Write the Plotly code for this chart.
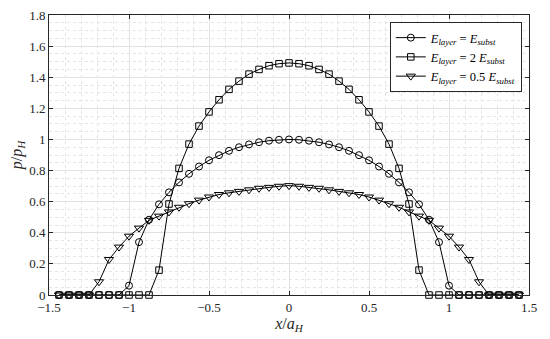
import plotly.graph_objects as go

x_vals = [-1.4375, -1.375, -1.3125, -1.25, -1.1875, -1.125, -1.0625, -1.0,
          -0.9375, -0.875, -0.8125, -0.75, -0.6875, -0.625, -0.5625, -0.5,
          -0.4375, -0.375, -0.3125, -0.25, -0.1875, -0.125, -0.0625, 0.0,
          0.0625, 0.125, 0.1875, 0.25, 0.3125, 0.375, 0.4375, 0.5,
          0.5625, 0.625, 0.6875, 0.75, 0.8125, 0.875, 0.9375, 1.0,
          1.0625, 1.125, 1.1875, 1.25, 1.3125, 1.375, 1.4375]

p_equal = [0, 0, 0, 0, 0, 0, 0, 0.06,
           0.34, 0.484, 0.583, 0.66, 0.724, 0.779, 0.826, 0.866,
           0.899, 0.927, 0.950, 0.968, 0.982, 0.992, 0.998, 1.0,
           0.998, 0.992, 0.982, 0.968, 0.950, 0.927, 0.899, 0.866,
           0.826, 0.779, 0.724, 0.66, 0.583, 0.484, 0.34, 0.06,
           0, 0, 0, 0, 0, 0, 0]

p_double = [0, 0, 0, 0, 0, 0, 0, 0,
            0, 0, 0.16, 0.585, 0.814, 0.97, 1.086, 1.177,
            1.255, 1.322, 1.375, 1.42, 1.45, 1.474, 1.487, 1.492,
            1.487, 1.474, 1.45, 1.42, 1.375, 1.322, 1.255, 1.177,
            1.086, 0.97, 0.814, 0.585, 0.16, 0, 0, 0,
            0, 0, 0, 0, 0, 0, 0]

p_half = [0, 0, 0, 0, 0.085, 0.228, 0.308, 0.378,
          0.43, 0.48, 0.507, 0.534, 0.564, 0.587, 0.61, 0.63,
          0.646, 0.657, 0.666, 0.676, 0.686, 0.692, 0.699, 0.703,
          0.699, 0.692, 0.686, 0.676, 0.666, 0.657, 0.646, 0.63,
          0.61, 0.587, 0.564, 0.534, 0.507, 0.48, 0.43, 0.378,
          0.308, 0.228, 0.085, 0, 0, 0, 0]

series_names = [
    "<i>E</i><sub><i>layer</i></sub> = <i>E</i><sub><i>subst</i></sub>",
    "<i>E</i><sub><i>layer</i></sub> = 2 <i>E</i><sub><i>subst</i></sub>",
    "<i>E</i><sub><i>layer</i></sub> = 0.5 <i>E</i><sub><i>subst</i></sub>",
]
series_values = [p_equal, p_double, p_half]
symbols = ["circle-open", "square-open", "triangle-down-open"]
sizes = [7, 6.5, 8]

x_ticks = [-1.5, -1.0, -0.5, 0.0, 0.5, 1.0, 1.5]
x_ticktext = ["\u22121.5", "\u22121", "\u22120.5", "0", "0.5", "1", "1.5"]
y_ticks = [0, 0.2, 0.4, 0.6, 0.8, 1.0, 1.2, 1.4, 1.6, 1.8]
y_ticktext = ["0", "0.2", "0.4", "0.6", "0.8", "1", "1.2", "1.4", "1.6", "1.8"]

FONT = "Liberation Serif, DejaVu Serif, serif"
AX = "#262626"

fig = go.Figure()
for name, vals, sym, sz in zip(series_names, series_values, symbols, sizes):
    fig.add_trace(go.Scatter(
        x=x_vals, y=vals, name=name, mode="lines+markers",
        line=dict(color="black", width=1),
        marker=dict(symbol=sym, size=sz, color="black", line=dict(width=1, color="black")),
        cliponaxis=False,
    ))

axis_common = dict(
    showline=True, linecolor=AX, linewidth=1, mirror="ticks",
    ticks="inside", ticklen=4, tickcolor=AX, tickwidth=1,
    showgrid=True, gridcolor="#e2e2e2", gridwidth=1,
    zeroline=False, automargin=False, ticklabeloverflow="allow",
    tickfont=dict(family=FONT, size=13, color=AX),
)

fig.update_xaxes(
    range=[-1.5, 1.5], tickmode="array", tickvals=x_ticks, ticktext=x_ticktext,
    title=dict(text="<i>x</i>/<i>a</i><sub><i>H</i></sub>", font=dict(family=FONT, size=16, color=AX), standoff=2),
    minor=dict(tick0=-1.5, dtick=0.1, showgrid=True, gridcolor="#e4e4e4", griddash="dot", gridwidth=1, ticks=""),
    **axis_common,
)
fig.update_yaxes(
    range=[0, 1.8], tickmode="array", tickvals=y_ticks, ticktext=y_ticktext,
    title=dict(text="<i>p</i>/<i>p</i><sub><i>H</i></sub>", font=dict(family=FONT, size=16, color=AX), standoff=4),
    minor=dict(tick0=0, dtick=0.05, showgrid=True, gridcolor="#e4e4e4", griddash="dot", gridwidth=1, ticks=""),
    **axis_common,
)

# The page body adds an 8px offset, so the figure is sized to fit the window.
fig.update_layout(
    width=542, height=331,
    margin=dict(l=41, r=21, t=7, b=44),
    paper_bgcolor="white", plot_bgcolor="white",
    font=dict(family=FONT, color=AX),
    legend=dict(
        x=0.985, y=0.975, xanchor="right", yanchor="top",
        bgcolor="white", bordercolor=AX, borderwidth=1,
        font=dict(family=FONT, size=12.5, color="black"),
        tracegroupgap=0, itemwidth=30,
    ),
    showlegend=True,
)

fig.write_html("out.html")
